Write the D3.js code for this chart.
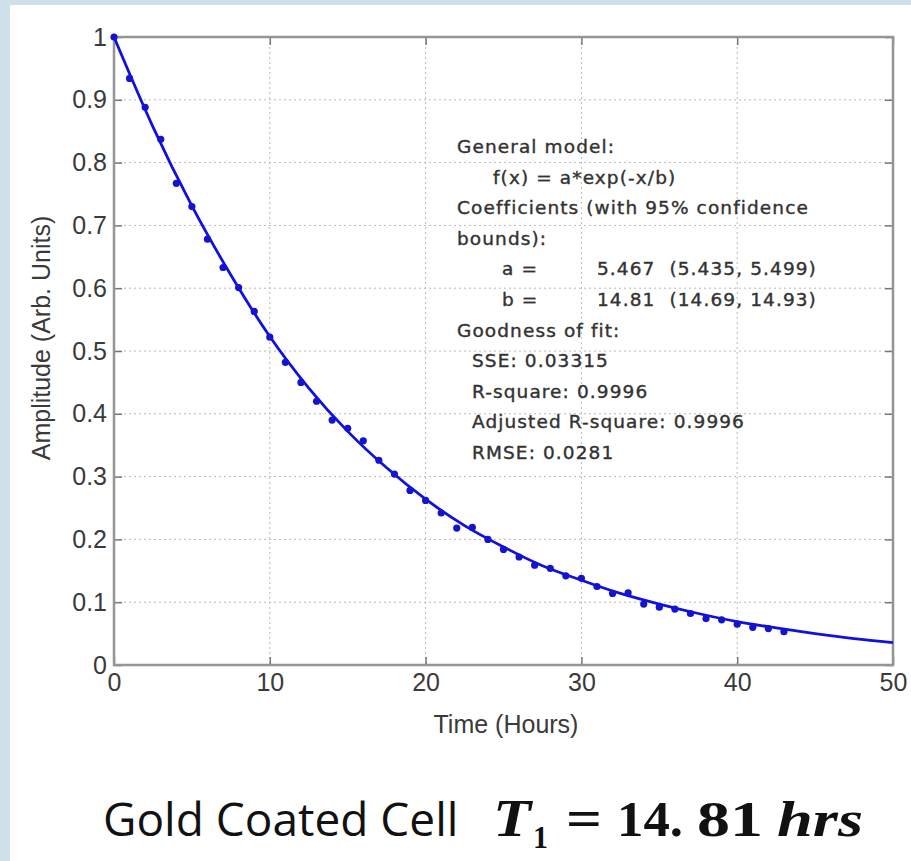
<!DOCTYPE html>
<html>
<head>
<meta charset="utf-8">
<script src="https://cdn.jsdelivr.net/npm/d3@7"></script>
<style>
  body { margin: 0; background: #cfe0ea; }
  svg { display: block; }
  .grid line { stroke: #b8b8b8; stroke-dasharray: 2,3; stroke-width: 1; }
  .note { font-family: "DejaVu Sans", sans-serif; font-size: 18.5px; fill: #333; stroke: #333; stroke-width: 0.4px; letter-spacing: 1.1px; }
  .cap { font-family: "Liberation Serif", serif; font-weight: bold; fill: #111; }
</style>
</head>
<body>
<svg id="chart" width="911" height="861"></svg>
<script>
// measured points (hours, normalised amplitude)
var hours = [0,1,2,3,4,5,6,7,8,9,10,11,12,13,14,15,16,17,18,19,20,21,22,23,24,25,26,27,28,29,30,31,32,33,34,35,36,37,38,39,40,41,42,43];
var amplitude = [1.0,0.934,0.888,0.837,0.767,0.730,0.678,0.633,0.601,0.563,0.522,0.482,0.45,0.42,0.39,0.377,0.357,0.326,0.304,0.278,0.262,0.242,0.218,0.219,0.200,0.184,0.172,0.159,0.154,0.142,0.138,0.125,0.114,0.115,0.097,0.092,0.089,0.082,0.074,0.072,0.065,0.060,0.058,0.053];

// fitted curve
var fitHours = [0,2.5,5,7.5,10,12.5,15,17.5,20,22.5,25,27.5,30,32.5,35,37.5,40,42.5,45,47.5,50];
var fitAmp = [1.0,0.857,0.731,0.621,0.523,0.441,0.372,0.314,0.264,0.222,0.188,0.158,0.135,0.114,0.097,0.082,0.069,0.059,0.050,0.042,0.0355];

var xTicks = [0,10,20,30,40,50];
var yTicks = [0,0.1,0.2,0.3,0.4,0.5,0.6,0.7,0.8,0.9,1];

var noteLines = [
  {text: "General model:", dx: 0},
  {text: "f(x) = a*exp(-x/b)", dx: 36},
  {text: "Coefficients (with 95% confidence", dx: 0},
  {text: "bounds):", dx: 0},
  {text: "a =", dx: 45, val: "5.467  (5.435, 5.499)"},
  {text: "b =", dx: 45, val: "14.81  (14.69, 14.93)"},
  {text: "Goodness of fit:", dx: 0},
  {text: "SSE: 0.03315", dx: 15},
  {text: "R-square: 0.9996", dx: 15},
  {text: "Adjusted R-square: 0.9996", dx: 15},
  {text: "RMSE: 0.0281", dx: 15}
];

var svg = d3.select("#chart");

// white page panel
svg.append("rect")
    .attr("x", 10).attr("y", 5)
    .attr("width", 901).attr("height", 856)
    .attr("fill", "#ffffff");

var mLeft = 114, mTop = 37, mRight = 893, mBottom = 665;
var x = d3.scaleLinear().domain([0, 50]).range([mLeft, mRight]);
var y = d3.scaleLinear().domain([0, 1]).range([mBottom, mTop]);

/***** Grid *****/
var grid = svg.append("g").attr("class", "grid");
grid.selectAll(".gx")
    .data(xTicks.slice(1, -1))
    .enter().append("line")
    .attr("x1", d => x(d)).attr("x2", d => x(d))
    .attr("y1", mTop).attr("y2", mBottom);
grid.selectAll(".gy")
    .data(yTicks.slice(1, -1))
    .enter().append("line")
    .attr("x1", mLeft).attr("x2", mRight)
    .attr("y1", d => y(d)).attr("y2", d => y(d));

/***** Axes (inward ticks on all four sides) *****/
var tickLen = 8;
svg.append("g")
    .attr("transform", "translate(0," + mBottom + ")")
    .call(d3.axisBottom(x).tickValues(xTicks).tickSizeInner(-tickLen).tickSizeOuter(0).tickPadding(8))
    .call(g => g.select(".domain").remove());
svg.append("g")
    .attr("transform", "translate(0," + mTop + ")")
    .call(d3.axisTop(x).tickValues(xTicks).tickSizeInner(-tickLen).tickSizeOuter(0).tickFormat(""))
    .call(g => g.select(".domain").remove());
svg.append("g")
    .attr("transform", "translate(" + mLeft + ",0)")
    .call(d3.axisLeft(y).tickValues(yTicks).tickSizeInner(-tickLen).tickSizeOuter(0).tickPadding(7).tickFormat(d3.format("")))
    .call(g => g.select(".domain").remove());
svg.append("g")
    .attr("transform", "translate(" + mRight + ",0)")
    .call(d3.axisRight(y).tickValues(yTicks).tickSizeInner(-tickLen).tickSizeOuter(0).tickFormat(""))
    .call(g => g.select(".domain").remove());
svg.selectAll(".tick line").attr("stroke", "#777").attr("stroke-width", 1.5);
svg.selectAll(".tick text")
    .attr("font-family", "Liberation Sans, Arial, sans-serif")
    .attr("font-size", 25)
    .attr("fill", "#3a3a3a");

// plot frame
svg.append("rect")
    .attr("x", mLeft).attr("y", mTop)
    .attr("width", mRight - mLeft).attr("height", mBottom - mTop)
    .attr("fill", "none")
    .attr("stroke", "#959595")
    .attr("stroke-width", 2.5);

/***** Fit line and points *****/
var line = d3.line()
    .x((d, i) => x(fitHours[i]))
    .y(d => y(d))
    .curve(d3.curveMonotoneX);
svg.append("path")
    .datum(fitAmp)
    .attr("d", line)
    .attr("fill", "none")
    .attr("stroke", "#1010e0")
    .attr("stroke-width", 2.8);

svg.selectAll(".pt")
    .data(amplitude)
    .enter().append("circle")
    .attr("class", "pt")
    .attr("cx", (d, i) => x(hours[i]))
    .attr("cy", d => y(d))
    .attr("r", 3.6)
    .attr("fill", "#1414d0");

/***** Axis titles *****/
svg.append("text")
    .attr("x", 506)
    .attr("y", 733)
    .attr("text-anchor", "middle")
    .attr("font-family", "Liberation Sans, Arial, sans-serif")
    .attr("font-size", 25)
    .attr("fill", "#3a3a3a")
    .text("Time (Hours)");
svg.append("text")
    .attr("transform", "translate(50,338) rotate(-90)")
    .attr("text-anchor", "middle")
    .attr("font-family", "Liberation Sans, Arial, sans-serif")
    .attr("font-size", 25)
    .attr("fill", "#3a3a3a")
    .text("Amplitude (Arb. Units)");

/***** Fit annotation *****/
var notes = svg.append("g");
noteLines.forEach(function(d, i) {
    var ty = 153 + i * 30.6;
    notes.append("text")
        .attr("class", "note")
        .attr("x", 457 + d.dx)
        .attr("y", ty)
        .text(d.text);
    if (d.val) {
        notes.append("text")
            .attr("class", "note")
            .attr("x", 597)
            .attr("y", ty)
            .style("white-space", "pre")
            .text(d.val);
    }
});

/***** Caption *****/
svg.append("text")
    .attr("x", 103)
    .attr("y", 836)
    .attr("font-family", "Open Sans, sans-serif")
    .attr("font-size", 46)
    .attr("fill", "#111")
    .text("Gold Coated Cell");

var capParts = [
  {t: "T",   x: 493, y: 836, size: 52, italic: true,  len: 38},
  {t: "1",   x: 533, y: 848, size: 32, italic: false, len: 15},
  {t: "=",   x: 566, y: 836, size: 52, italic: false, len: 36},
  {t: "14.", x: 617, y: 836, size: 50, italic: false, len: 66},
  {t: "81",  x: 697, y: 836, size: 50, italic: false, len: 66},
  {t: "hrs", x: 777, y: 836, size: 50, italic: true,  len: 86}
];
svg.selectAll(".capPart")
    .data(capParts)
    .enter().append("text")
    .attr("class", "cap capPart")
    .attr("x", d => d.x)
    .attr("y", d => d.y)
    .attr("font-size", d => d.size)
    .attr("font-style", d => d.italic ? "italic" : "normal")
    .attr("textLength", d => d.len)
    .attr("lengthAdjust", "spacingAndGlyphs")
    .text(d => d.t);
</script>
</body>
</html>
